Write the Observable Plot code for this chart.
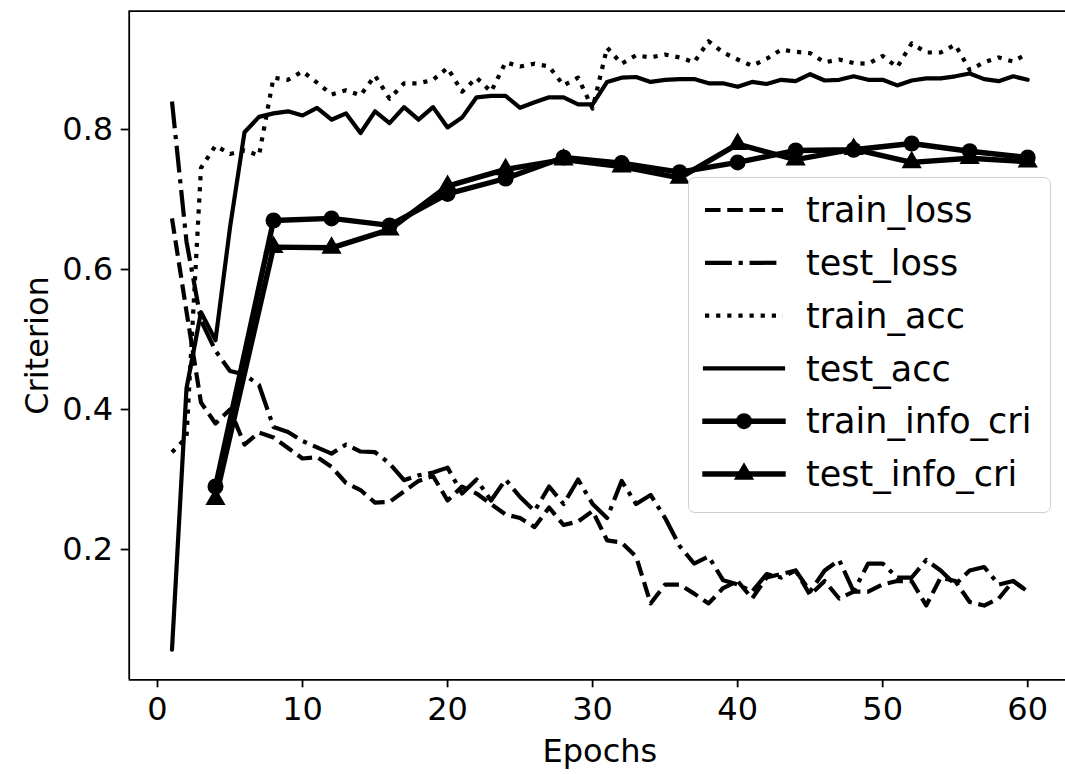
<!DOCTYPE html>
<html><head><meta charset="utf-8">
<script src="https://cdn.jsdelivr.net/npm/d3@7"></script>
<script src="https://cdn.jsdelivr.net/npm/@observablehq/plot@0.6"></script>
<style>
html,body{margin:0;padding:0;background:#fff;overflow:hidden;}
#wrap{position:relative;width:1065px;height:774px;overflow:hidden;font-family:"DejaVu Sans",sans-serif;}
#legend{position:absolute;left:688px;top:177px;width:363px;height:336px;box-sizing:border-box;border:1.8px solid #d0d0d0;border-radius:7px;background:rgba(255,255,255,0.85);}
</style></head><body><div id="wrap"></div>
<script>
const epochs = [1,2,3,4,5,6,7,8,9,10,11,12,13,14,15,16,17,18,19,20,21,22,23,24,25,26,27,28,29,30,31,32,33,34,35,36,37,38,39,40,41,42,43,44,45,46,47,48,49,50,51,52,53,54,55,56,57,58,59,60];
const infoEpochs = [4,8,12,16,20,24,28,32,36,40,44,48,52,56,60];
const trainLoss = [0.673,0.54,0.41,0.38,0.40,0.35,0.367,0.36,0.345,0.33,0.332,0.318,0.295,0.285,0.267,0.268,0.283,0.298,0.305,0.27,
0.29,0.28,0.265,0.25,0.245,0.232,0.26,0.235,0.24,0.255,0.213,0.21,0.19,0.123,0.15,0.15,0.137,0.123,0.145,0.155,
0.13,0.16,0.165,0.17,0.135,0.155,0.13,0.14,0.14,0.15,0.155,0.155,0.12,0.16,0.155,0.125,0.12,0.13,0.155,0.14];
const testLoss = [0.84,0.64,0.527,0.484,0.455,0.45,0.435,0.375,0.368,0.355,0.346,0.337,0.35,0.34,0.339,0.323,0.299,0.306,0.31,0.317,
0.28,0.3,0.27,0.3,0.275,0.255,0.29,0.265,0.3,0.265,0.245,0.298,0.265,0.278,0.245,0.205,0.18,0.19,0.156,0.15,
0.14,0.165,0.16,0.17,0.14,0.17,0.185,0.14,0.18,0.18,0.16,0.16,0.185,0.17,0.15,0.17,0.175,0.15,0.155,0.14];
const trainAcc = [0.339,0.36,0.745,0.777,0.765,0.77,0.763,0.874,0.871,0.883,0.867,0.85,0.856,0.849,0.877,0.844,0.866,0.866,0.871,0.888,
0.854,0.874,0.854,0.896,0.89,0.894,0.89,0.863,0.874,0.83,0.917,0.894,0.906,0.903,0.907,0.903,0.896,0.926,0.91,0.9,
0.891,0.901,0.914,0.911,0.909,0.896,0.9,0.895,0.894,0.905,0.889,0.923,0.91,0.91,0.921,0.885,0.896,0.903,0.897,0.909];
const testAcc = [0.057,0.43,0.539,0.499,0.66,0.796,0.818,0.823,0.826,0.82,0.831,0.814,0.823,0.795,0.826,0.809,0.832,0.814,0.832,0.803,
0.817,0.846,0.848,0.848,0.831,0.839,0.846,0.846,0.836,0.836,0.868,0.874,0.875,0.868,0.871,0.872,0.872,0.866,0.866,0.861,
0.868,0.865,0.871,0.869,0.879,0.87,0.871,0.876,0.871,0.871,0.863,0.87,0.873,0.873,0.876,0.88,0.872,0.869,0.876,0.871];
const trainInfo = [0.29,0.67,0.673,0.663,0.708,0.73,0.76,0.752,0.739,0.753,0.77,0.771,0.78,0.769,0.76];
const testInfo = [0.272,0.632,0.631,0.657,0.719,0.743,0.757,0.747,0.731,0.779,0.757,0.772,0.753,0.759,0.754];
const xTicks = [0,10,20,30,40,50,60];
const yTicks = [0.2,0.4,0.6,0.8];
const xDomain = [-1.95, 62.95];
const yDomain = [0.0139, 0.969];
const seriesNames = ["train_loss","test_loss","train_acc","test_acc","train_info_cri","test_info_cri"];

const FS = 32;
const LFS = 35;
const LW = 4.2;
const IW = 5.4;
const dashes = {dashed: `${3.7*LW},${1.6*LW}`, dashdot: `${6.4*LW},${1.6*LW},${1*LW},${1.6*LW}`, dotted: `${LW},${1.65*LW}`};

const X = (d,i) => epochs[i];
const XI = (d,i) => infoEpochs[i];
const Y = d => d;

const chart = Plot.plot({
  width: 1065, height: 774,
  marginLeft: 128.7, marginRight: -5, marginTop: 10.7, marginBottom: 94.7,
  style: {fontFamily: "DejaVu Sans, sans-serif", fontSize: FS + "px", background: "white", color: "black", maxWidth: "none", overflow: "hidden"},
  x: {domain: xDomain},
  y: {domain: yDomain},
  marks: [
    Plot.line(trainLoss, {x: X, y: Y, stroke: "black", strokeWidth: LW, strokeDasharray: dashes.dashed, strokeLinecap: "butt"}),
    Plot.line(testLoss, {x: X, y: Y, stroke: "black", strokeWidth: LW, strokeDasharray: dashes.dashdot, strokeLinecap: "butt"}),
    Plot.line(trainAcc, {x: X, y: Y, stroke: "black", strokeWidth: LW, strokeDasharray: dashes.dotted, strokeLinecap: "butt"}),
    Plot.line(testAcc, {x: X, y: Y, stroke: "black", strokeWidth: LW}),
    Plot.line(trainInfo, {x: XI, y: Y, stroke: "black", strokeWidth: IW}),
    Plot.dot(trainInfo, {x: XI, y: Y, fill: "black", r: 8, symbol: "circle"}),
    Plot.line(testInfo, {x: XI, y: Y, stroke: "black", strokeWidth: IW}),
    Plot.dot(testInfo, {x: XI, y: Y, fill: "black", r: 7.5, symbol: "triangle"}),
    // spines: top, bottom, left (right spine lies outside the cropped picture)
    Plot.ruleY(yDomain, {stroke: "black", strokeWidth: 1.8}),
    Plot.ruleX([xDomain[0]], {stroke: "black", strokeWidth: 1.8}),
    Plot.axisX({ticks: xTicks, tickSize: 8, tickPadding: 9, strokeWidth: 1.8, fontSize: FS, label: null, tickFormat: d => String(d)}),
    Plot.axisY({ticks: yTicks, tickSize: 8, tickPadding: 8, strokeWidth: 1.8, fontSize: FS, label: null, tickFormat: d => d.toFixed(1)}),
    Plot.text(["Epochs"], {frameAnchor: "bottom", dy: 82, fontSize: FS, text: d => d}),
    Plot.text(["Criterion"], {frameAnchor: "left", textAnchor: "middle", dx: -91, rotate: -90, fontSize: FS, text: d => d})
  ]
});
const wrap = document.getElementById("wrap");
wrap.appendChild(chart);

// legend
const leg = document.createElement("div");
leg.id = "legend";
wrap.appendChild(leg);
const styles = [
  {dash: dashes.dashed, w: LW, cap: "butt"},
  {dash: dashes.dashdot, w: LW, cap: "butt"},
  {dash: dashes.dotted, w: LW, cap: "butt"},
  {dash: null, w: LW, cap: "square"},
  {dash: null, w: IW, cap: "square", marker: "circle"},
  {dash: null, w: IW, cap: "square", marker: "triangle"}
];
const svg = d3.select(leg).append("svg").attr("width", 360).attr("height", 333).style("display","block")
  .style("font-family", "DejaVu Sans, sans-serif").style("font-size", LFS + "px");
seriesNames.forEach((name, i) => {
  const yy = 32 + i * 52.8;
  const s = styles[i];
  svg.append("line").attr("x1", 16).attr("x2", 94).attr("y1", yy).attr("y2", yy)
    .attr("stroke", "black").attr("stroke-width", s.w).attr("stroke-dasharray", s.dash).attr("stroke-linecap", s.cap);
  if (s.marker === "circle") svg.append("circle").attr("cx", 55).attr("cy", yy).attr("r", 8).attr("fill", "black");
  if (s.marker === "triangle") svg.append("path").attr("transform", `translate(55,${yy})`).attr("d", d3.symbol(d3.symbolTriangle, Math.PI*7.5*7.5)()).attr("fill", "black");
  svg.append("text").attr("x", 117).attr("y", yy).attr("dy", "0.35em").text(name);
});
</script>
</body></html>
